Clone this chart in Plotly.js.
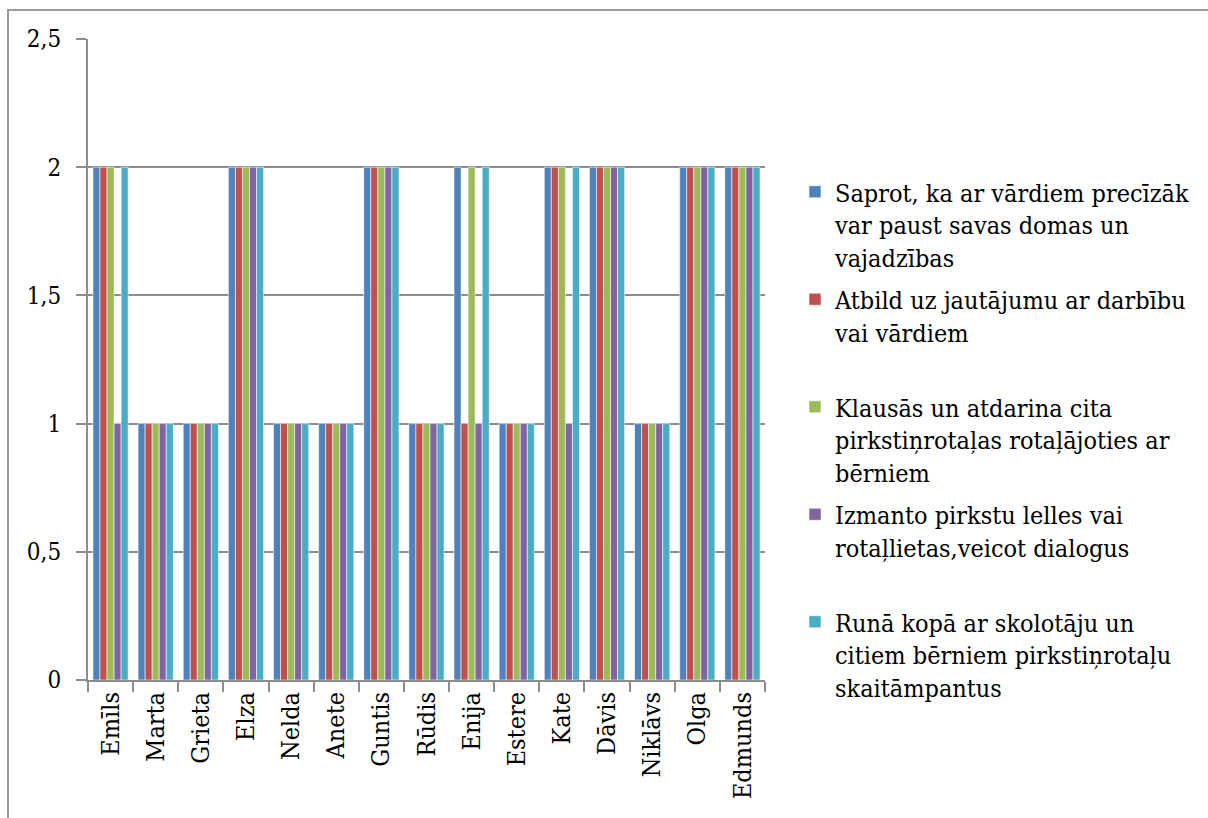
<!DOCTYPE html>
<html>
<head>
<meta charset="utf-8">
<script src="https://cdn.plot.ly/plotly-3.0.1.min.js"></script>
<style>
html,body{margin:0;padding:0;background:#fff;}
#chart{width:1208px;height:818px;}
</style>
</head>
<body>
<div id="chart"></div>
<script>
const categories = ["Emīls","Marta","Grieta","Elza","Nelda","Anete","Guntis","Rūdis","Enija","Estere","Kate","Dāvis","Niklāvs","Olga","Edmunds"];
const seriesNames = [
  "Saprot, ka ar vārdiem precīzāk<br>var paust savas domas un<br>vajadzības",
  "Atbild uz jautājumu ar darbību<br>vai vārdiem<br> ",
  "Klausās un atdarina cita<br>pirkstiņrotaļas rotaļājoties ar<br>bērniem",
  "Izmanto pirkstu lelles vai<br>rotaļlietas,veicot dialogus<br> ",
  "Runā kopā ar skolotāju un<br>citiem bērniem pirkstiņrotaļu<br>skaitāmpantus"
];
const s1 = [2,1,1,2,1,1,2,1,2,1,2,2,1,2,2];
const s2 = [2,1,1,2,1,1,2,1,1,1,2,2,1,2,2];
const s3 = [2,1,1,2,1,1,2,1,2,1,2,2,1,2,2];
const s4 = [1,1,1,2,1,1,2,1,1,1,1,2,1,2,2];
const s5 = [2,1,1,2,1,1,2,1,2,1,2,2,1,2,2];
const colors = ["#4F81BD","#C0504D","#9BBB59","#8064A2","#4BACC6"];
const yTicks = [0,0.5,1,1.5,2,2.5];

const FONT = 'DejaVu Serif Condensed, DejaVu Serif';

const allSeries = [s1,s2,s3,s4,s5];
const traces = allSeries.map((vals,i)=>({
  type:'bar',
  x:categories,
  y:vals,
  name:seriesNames[i],
  legendgroup:'g'+i,
  marker:{color:colors[i], line:{color:'rgba(255,255,255,0.55)', width:1}},
  hoverinfo:'x+y'
}));

const gray = '#8c8c8c';
const L = 88, R = 765, T = 39, B = 680;
const W = R-L, H = B-T;
const px = v => (v-L)/W;
const py = v => (B-v)/H;

const layout = {
  width:1208, height:818,
  margin:{l:L, r:1208-R, t:T, b:818-B, pad:0},
  paper_bgcolor:'#fff', plot_bgcolor:'#fff',
  separators:',.',
  font:{family:FONT, color:'#000', size:25},
  barmode:'group',
  bargap:0.22,
  bargroupgap:0,
  showlegend:true,
  legend:{
    x:px(795), y:py(169), xanchor:'left', yanchor:'top',
    font:{size:25, family:FONT, color:'#000'},
    valign:'top', traceorder:'grouped', itemclick:false, tracegroupgap:7,
    bgcolor:'rgba(0,0,0,0)'
  },
  xaxis:{
    type:'category',
    tickangle:-90,
    showline:true, linecolor:gray, linewidth:2,
    ticks:'outside', tickson:'boundaries', ticklen:10, tickcolor:gray, tickwidth:2,
    showgrid:false,
    tickfont:{size:25, family:FONT, color:'#000'},
    automargin:false
  },
  yaxis:{
    range:[0,2.5],
    tickvals:yTicks,
    ticktext:yTicks.map(v=>String(v).replace('.',',')),
    showline:true, linecolor:gray, linewidth:2,
    ticks:'outside', ticklen:10, tickcolor:gray, tickwidth:2,
    showgrid:true, gridcolor:gray, gridwidth:2,
    zeroline:false,
    tickfont:{size:24, family:FONT, color:'#000'},
    ticklabelstandoff:10,
    automargin:false
  },
  shapes:[{
    type:'rect', xref:'paper', yref:'paper', layer:'below',
    x0:px(8), x1:px(1300), y0:py(900), y1:py(10),
    line:{color:'#9a9a9a', width:2}, fillcolor:'rgba(0,0,0,0)'
  }]
};

Plotly.newPlot('chart', traces, layout, {displayModeBar:false, staticPlot:true});
</script>
</body>
</html>
